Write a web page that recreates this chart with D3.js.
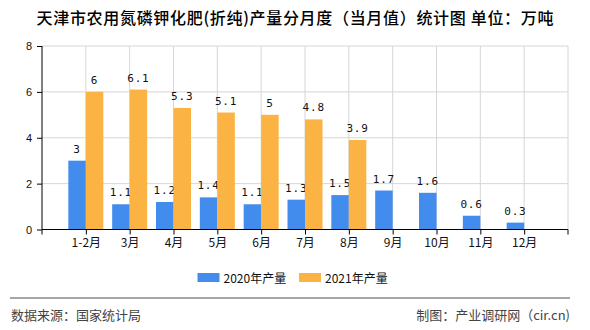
<!DOCTYPE html>
<html><head><meta charset="utf-8">
<script src="https://cdn.jsdelivr.net/npm/d3@7"></script>
<style>
html,body{margin:0;padding:0;background:#fff;}
svg{display:block;}
</style>
</head><body>
<svg id="c" width="590" height="330"></svg>
<script>
const categories = ["1-2月","3月","4月","5月","6月","7月","8月","9月","10月","11月","12月"];
const values2020 = [3, 1.1, 1.2, 1.4, 1.1, 1.3, 1.5, 1.7, 1.6, 0.6, 0.3];
const values2021 = [6, 6.1, 5.3, 5.1, 5, 4.8, 3.9, null, null, null, null];
const seriesNames = ["2020年产量", "2021年产量"];
const yTicks = [0, 2, 4, 6, 8];
const titleText = "天津市农用氮磷钾化肥(折纯)产量分月度（当月值）统计图 单位：万吨";
const sourceText = "数据来源：国家统计局";
const creditText = "制图：产业调研网（cir.cn)";

const colors = ["#428CEE", "#FBB343"];
const svg = d3.select("#c");
const L = 42, R = 568, T = 46, B = 229.5;
const cjk = "'Noto Sans CJK SC', sans-serif";
const mono = "'DejaVu Sans Mono', monospace";

const x = d3.scalePoint().domain(categories).range([L, R]).padding(1);
const y = d3.scaleLinear().domain([0, 8]).range([B, T]);
const barW = 17.5;

// title
svg.append("text").attr("x", 295).attr("y", 24).attr("text-anchor", "middle")
  .attr("font-family", cjk).attr("font-size", 16).attr("font-weight", 500)
  .attr("textLength", 517).attr("lengthAdjust", "spacing")
  .attr("fill", "#000").text(titleText);

// gridlines
const grid = svg.append("g");
yTicks.filter(d => d > 0).forEach(t => {
  grid.append("line").attr("x1", L).attr("x2", R).attr("y1", y(t)).attr("y2", y(t))
    .attr("stroke", "#d6d6d6").attr("stroke-width", 1);
});
categories.forEach(c => {
  grid.append("line").attr("x1", x(c)).attr("x2", x(c)).attr("y1", T).attr("y2", B)
    .attr("stroke", "#d6d6d6").attr("stroke-width", 1);
});
grid.append("line").attr("x1", R).attr("x2", R).attr("y1", T).attr("y2", B)
  .attr("stroke", "#d6d6d6").attr("stroke-width", 1);

// bars
const bars = svg.append("g");
categories.forEach((c, i) => {
  const v1 = values2020[i], v2 = values2021[i];
  if (v1 != null) {
    bars.append("rect").attr("x", x(c) - barW).attr("y", y(v1)).attr("width", barW)
      .attr("height", y(0) - y(v1)).attr("fill", colors[0]);
    bars.append("text").attr("x", x(c) - barW / 2).attr("y", y(v1) - 8)
      .attr("text-anchor", "middle").attr("font-family", mono).attr("font-size", 11)
      .attr("letter-spacing", 0.8).attr("fill", "#111").text(v1);
  }
  if (v2 != null) {
    bars.append("rect").attr("x", x(c)).attr("y", y(v2)).attr("width", barW)
      .attr("height", y(0) - y(v2)).attr("fill", colors[1]);
    bars.append("text").attr("x", x(c) + barW / 2).attr("y", y(v2) - 8)
      .attr("text-anchor", "middle").attr("font-family", mono).attr("font-size", 11)
      .attr("letter-spacing", 0.8).attr("fill", "#111").text(v2);
  }
});

// y axis
const yAxis = svg.append("g").attr("transform", `translate(${L},0)`)
  .call(d3.axisLeft(y).tickValues(yTicks).tickSize(5).tickPadding(5).tickFormat(d3.format("d")));
yAxis.select(".domain").attr("stroke", "#000").attr("d", `M0,${T}V${B}`);
yAxis.selectAll(".tick line").attr("stroke", "#000");
yAxis.selectAll("text").attr("font-family", "'Liberation Sans', sans-serif").attr("font-size", 11).attr("fill", "#111");

// x axis
const xAxis = svg.append("g").attr("transform", `translate(0,${B})`)
  .call(d3.axisBottom(x).tickSize(5).tickPadding(4));
xAxis.select(".domain").attr("stroke", "#000").attr("stroke-width", 1.2).attr("d", `M${L},0H${R}`);
xAxis.selectAll(".tick line").attr("stroke", "#000");
xAxis.selectAll("text").attr("font-family", cjk).attr("font-size", 12).attr("fill", "#111");
[L, R].forEach(px => xAxis.append("line").attr("x1", px).attr("x2", px).attr("y1", 0).attr("y2", 5).attr("stroke", "#000"));

// legend
const leg = svg.append("g");
const legX = [197.5, 299];
seriesNames.forEach((n, i) => {
  leg.append("rect").attr("x", legX[i]).attr("y", 273).attr("width", 22).attr("height", 9).attr("fill", colors[i]);
  leg.append("text").attr("x", legX[i] + 26).attr("y", 282.5).attr("font-family", cjk)
    .attr("font-size", 12).attr("fill", "#111").text(n);
});

// footer
svg.append("line").attr("x1", 10).attr("x2", 570).attr("y1", 298).attr("y2", 298)
  .attr("stroke", "#888").attr("stroke-width", 1.5);
svg.append("text").attr("x", 11).attr("y", 320).attr("font-family", cjk).attr("font-size", 13)
  .attr("fill", "#444").text(sourceText);
svg.append("text").attr("x", 570).attr("y", 320).attr("text-anchor", "end").attr("font-family", cjk)
  .attr("font-size", 13).attr("fill", "#444").text(creditText);
</script>
</body></html>
